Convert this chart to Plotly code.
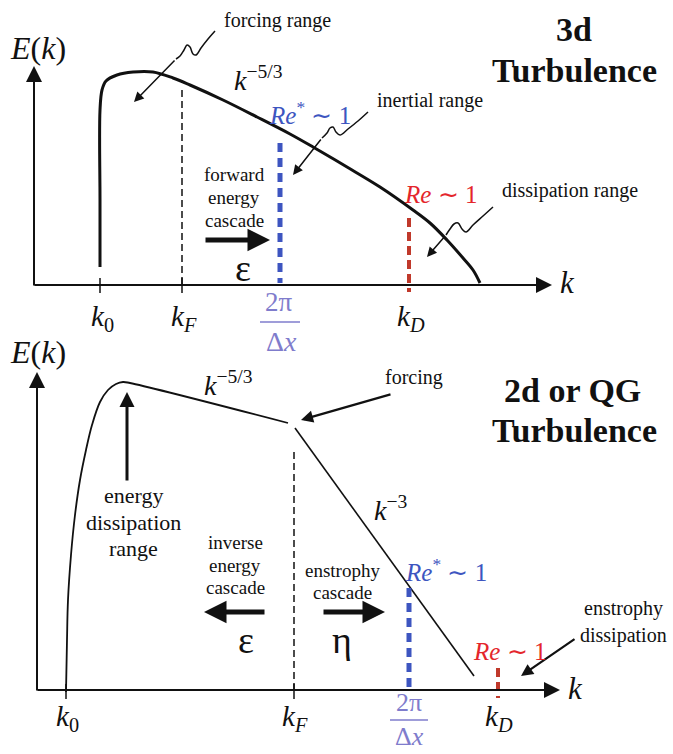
import plotly.graph_objects as go

# ---------------- data (diagram coordinates: x to the right, y downward, page units) ----------
# Panel 1 : 3d turbulence spectrum
p1_curve_x = [100, 100, 100, 102, 106, 117, 133, 153, 173, 190, 223, 257, 290, 313, 347, 380, 413, 430, 447, 463, 473, 480]
p1_curve_y = [267, 200, 110, 90, 81, 75, 72, 72, 78, 85, 100, 117, 134, 147, 167, 187, 210, 223, 240, 258, 270, 283]
p1_tick_x = [100, 182, 280, 409]          # k0, kF, 2pi/dx, kD
p1_kF_top = 90
p1_dx_top = 143
p1_kD_top = 218

# Panel 2 : 2d / QG turbulence spectrum
p2_curve_x = [66, 67, 68, 71, 75, 80, 86, 92, 100, 108, 116, 123, 130, 288]
p2_curve_y = [692, 640, 600, 555, 515, 480, 450, 425, 402, 390, 384, 382, 383, 423]
p2_k3_x = [295, 474]
p2_k3_y = [428, 676]
p2_tick_x = [66, 294, 409, 498]          # k0, kF, 2pi/dx, kD
p2_kF_top = 452
p2_dx_top = 588
p2_kD_top = 668

tick_labels = ["<i>k</i><sub>0</sub>", "<i>k</i><sub><i>F</i></sub>", "", "<i>k</i><sub><i>D</i></sub>"]

# squiggly leader lines
sq1_x = [215, 208, 201, 196, 193, 190, 187, 184, 180, 176]
sq1_y = [31, 39, 48, 55, 54, 47, 45, 50, 56, 59]
sq2_x = [368, 358, 348, 340, 336, 333, 330, 327, 322]
sq2_y = [112, 121, 129, 135, 132, 127, 128, 133, 138]
sq3_x = [493, 483, 473, 466, 462, 458, 454, 450, 446]
sq3_y = [207, 216, 225, 232, 229, 223, 224, 229, 235]

BLUE = "#3d55c0"
LBLUE = "#7f7ccc"
RED = "#e4252b"
DRED = "#c0392b"
INK = "#111111"
SERIF = "Liberation Serif"

fig = go.Figure()

def line(x, y, w=2, color=INK, dash=None, shape="linear"):
    fig.add_trace(go.Scatter(x=x, y=y, mode="lines", hoverinfo="skip", showlegend=False,
                             line=dict(color=color, width=w, dash=dash, shape=shape)))

# spectra
line(p1_curve_x, p1_curve_y, w=3, shape="spline")
line(p2_curve_x, p2_curve_y, w=1.8, shape="spline")
line(p2_k3_x, p2_k3_y, w=1.6)

# dashed verticals
line([p1_tick_x[1]] * 2, [p1_kF_top, 285], w=1.5, dash="7px,4px")
line([p1_tick_x[2]] * 2, [p1_dx_top, 283], w=5, color=BLUE, dash="9px,6px")
line([p1_tick_x[3]] * 2, [p1_kD_top, 292], w=4, color=DRED, dash="9px,5px")
line([p2_tick_x[1]] * 2, [p2_kF_top, 690], w=1.5, dash="7px,4px")
line([p2_tick_x[2]] * 2, [p2_dx_top, 690], w=5, color=BLUE, dash="9px,6px")
line([p2_tick_x[3]] * 2, [p2_kD_top, 698], w=4, color=DRED, dash="9px,5px")

# tick marks
for tx in p1_tick_x[:2]:
    line([tx, tx], [278, 293], w=1.5)
for tx in p2_tick_x[:2]:
    line([tx, tx], [684, 699], w=1.5)

# squiggles
for sx, sy in [(sq1_x, sq1_y), (sq2_x, sq2_y), (sq3_x, sq3_y)]:
    line(sx, sy, w=1.5, shape="spline")

# fraction bars
line([260, 300], [322, 322], w=1.5, color=LBLUE)
line([390, 428], [720, 720], w=1.5, color=LBLUE)

ann = []

def arrow(x0, y0, x1, y1, w=2, size=1.0, head=2):
    ann.append(dict(x=x1, y=y1, ax=x0, ay=y0, xref="x", yref="y", axref="x", ayref="y",
                    text="", showarrow=True, arrowhead=head, arrowwidth=w, arrowsize=size,
                    arrowcolor=INK, standoff=0, startstandoff=0))

def text(x, y, s, size=19, color=INK, bold=False, xanchor="center", family=SERIF):
    if bold:
        s = "<b>" + s + "</b>"
    ann.append(dict(x=x, y=y, xref="x", yref="y", text=s, showarrow=False,
                    xanchor=xanchor, yanchor="middle",
                    font=dict(family=family, size=size, color=color)))

# axes (panel 1)
arrow(34, 287, 34, 66, w=2, size=1.6)
arrow(33, 285, 552, 285, w=2, size=1.6)
# axes (panel 2)
arrow(37, 692, 37, 372, w=2, size=1.6)
arrow(36, 690, 560, 690, w=2, size=1.6)

# leader arrows
arrow(176, 59, 134, 102, w=1.5, size=1.3)
arrow(322, 138, 293, 175, w=1.5, size=1.3)
arrow(446, 235, 427, 257, w=1.5, size=1.3)
arrow(127, 482, 127, 392, w=3, size=1.0)
arrow(392, 394, 301, 420, w=2.2, size=1.1)
arrow(576, 638, 521, 676, w=2.2, size=1.1)

# cascade arrows
arrow(204, 240, 270, 240, w=5, size=0.9)
arrow(266, 612, 204, 612, w=5, size=0.9)
arrow(322, 612, 385, 612, w=5, size=0.9)

# axis labels
text(38, 48, "<i>E</i>(<i>k</i>)", size=32)
text(38, 352, "<i>E</i>(<i>k</i>)", size=32)
text(567, 282, "<i>k</i>", size=31)
text(575, 688, "<i>k</i>", size=31)

# tick labels
for tx, lab in zip(p1_tick_x, tick_labels):
    if lab:
        text(tx + 2, 318, lab, size=29)
for tx, lab in zip(p2_tick_x, tick_labels):
    if lab:
        text(tx + 1, 718, lab, size=29)
text(279, 302, "2π", size=27, color=LBLUE)
text(281, 341, "Δ<i>x</i>", size=28, color=LBLUE)
text(409, 702, "2π", size=26, color=LBLUE)
text(409, 736, "Δ<i>x</i>", size=26, color=LBLUE)

# titles
text(574, 29, "3d", size=34, bold=True)
text(574, 70, "Turbulence", size=34, bold=True)
text(572, 390, "2d or QG", size=34, bold=True)
text(574, 430, "Turbulence", size=34, bold=True)

# panel 1 labels
text(277, 20, "forcing range", size=20)
text(430, 100, "inertial range", size=20)
text(570, 190, "dissipation range", size=20)
text(258, 78, "<i>k</i><sup>−5/3</sup>", size=28)
text(310, 113, "<i>Re</i><sup>*</sup> ∼ 1", size=25, color=BLUE)
text(440, 194, "<i>Re</i> ∼ 1", size=25, color=RED)
text(234, 174, "forward", size=19)
text(234, 197, "energy", size=19)
text(234, 220, "cascade", size=19)
text(243, 268, "ε", size=38)

# panel 2 labels
text(228, 383, "<i>k</i><sup>−5/3</sup>", size=28)
text(414, 377, "forcing", size=20)
text(133, 495, "energy", size=22)
text(133, 522, "dissipation", size=22)
text(133, 548, "range", size=22)
text(235, 542, "inverse", size=19)
text(235, 565, "energy", size=19)
text(235, 587, "cascade", size=19)
text(342, 570, "enstrophy", size=19)
text(342, 592, "cascade", size=19)
text(246, 640, "ε", size=38)
text(342, 640, "η", size=38)
text(390, 508, "<i>k</i><sup>−3</sup>", size=28)
text(446, 570, "<i>Re</i><sup>*</sup> ∼ 1", size=25, color=BLUE)
text(509, 651, "<i>Re</i> ∼ 1", size=25, color=RED)
text(623, 608, "enstrophy", size=20)
text(623, 635, "dissipation", size=20)

fig.update_layout(
    width=673, height=754, margin=dict(l=0, r=0, t=0, b=0),
    paper_bgcolor="white", plot_bgcolor="white",
    font=dict(family=SERIF),
    xaxis=dict(range=[0, 673], visible=False, fixedrange=True),
    yaxis=dict(range=[754, 0], visible=False, fixedrange=True),
    annotations=ann, showlegend=False,
)

fig.write_html("out.html")
